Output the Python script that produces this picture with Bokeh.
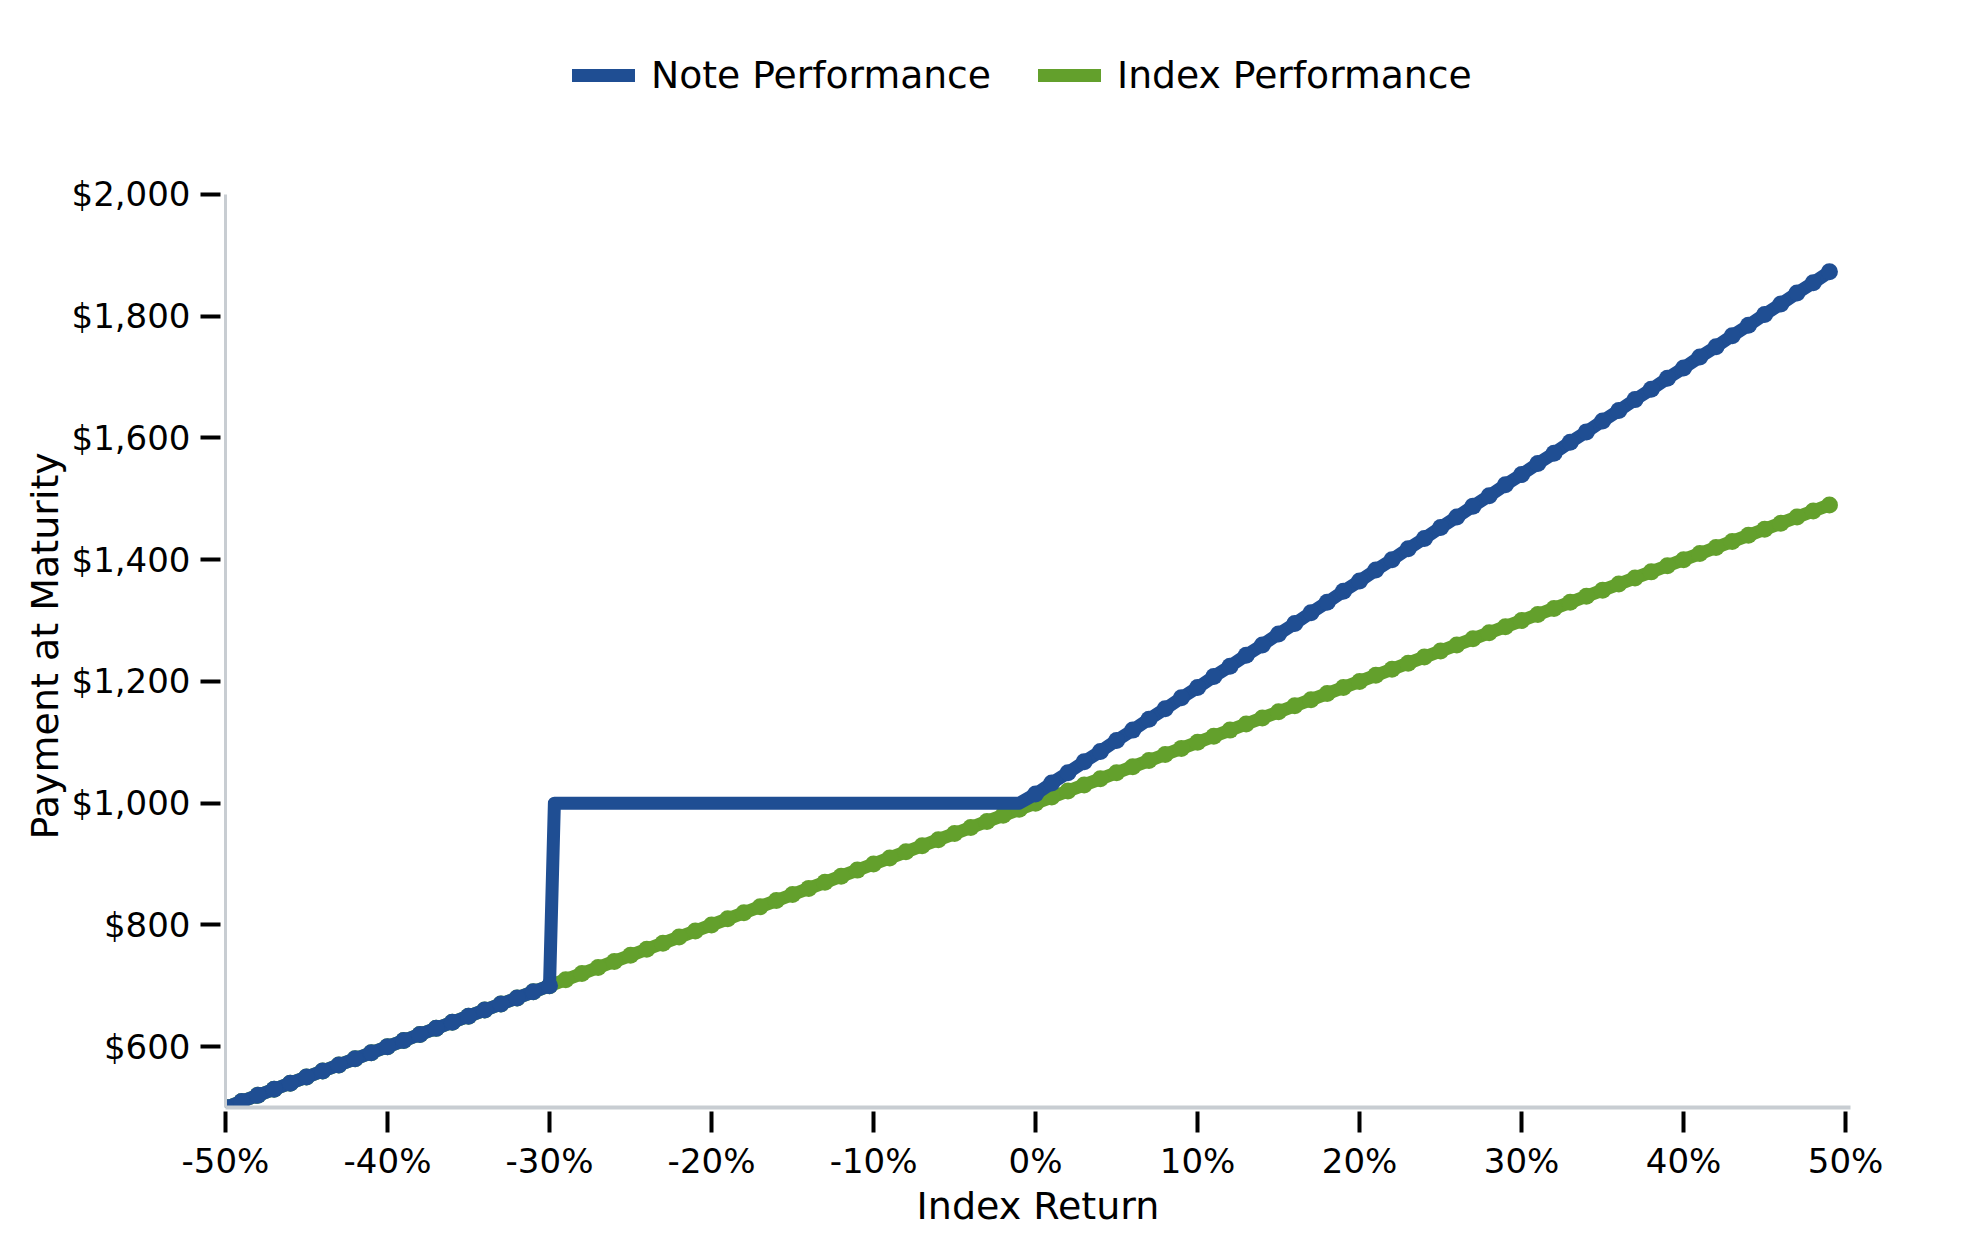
from bokeh.plotting import figure
from bokeh.models import (Legend, LegendItem, ColumnDataSource, FixedTicker,
                          Range1d, CDSView, IndexFilter, Title)
from bokeh.embed import file_html
from bokeh.resources import INLINE

# ---------------- data ----------------
index_return_pct = [-50, -49, -48, -47, -46, -45, -44, -43, -42, -41,
                    -40, -39, -38, -37, -36, -35, -34, -33, -32, -31,
                    -30, -29, -28, -27, -26, -25, -24, -23, -22, -21,
                    -20, -19, -18, -17, -16, -15, -14, -13, -12, -11,
                    -10, -9, -8, -7, -6, -5, -4, -3, -2, -1,
                    0, 1, 2, 3, 4, 5, 6, 7, 8, 9,
                    10, 11, 12, 13, 14, 15, 16, 17, 18, 19,
                    20, 21, 22, 23, 24, 25, 26, 27, 28, 29,
                    30, 31, 32, 33, 34, 35, 36, 37, 38, 39,
                    40, 41, 42, 43, 44, 45, 46, 47, 48, 49]
index_payment = [500, 510, 520, 530, 540, 550, 560, 570, 580, 590,
                 600, 610, 620, 630, 640, 650, 660, 670, 680, 690,
                 700, 710, 720, 730, 740, 750, 760, 770, 780, 790,
                 800, 810, 820, 830, 840, 850, 860, 870, 880, 890,
                 900, 910, 920, 930, 940, 950, 960, 970, 980, 990,
                 1000, 1010, 1020, 1030, 1040, 1050, 1060, 1070, 1080, 1090,
                 1100, 1110, 1120, 1130, 1140, 1150, 1160, 1170, 1180, 1190,
                 1200, 1210, 1220, 1230, 1240, 1250, 1260, 1270, 1280, 1290,
                 1300, 1310, 1320, 1330, 1340, 1350, 1360, 1370, 1380, 1390,
                 1400, 1410, 1420, 1430, 1440, 1450, 1460, 1470, 1480, 1490]

note_return_pct = [-50, -49, -48, -47, -46, -45, -44, -43, -42, -41,
                   -40, -39, -38, -37, -36, -35, -34, -33, -32, -31,
                   -30, -29.7, -1,
                   0, 1, 2, 3, 4, 5, 6, 7, 8, 9,
                   10, 11, 12, 13, 14, 15, 16, 17, 18, 19,
                   20, 21, 22, 23, 24, 25, 26, 27, 28, 29,
                   30, 31, 32, 33, 34, 35, 36, 37, 38, 39,
                   40, 41, 42, 43, 44, 45, 46, 47, 48, 49]
note_payment = [500, 510, 520, 530, 540, 550, 560, 570, 580, 590,
                600, 610, 620, 630, 640, 650, 660, 670, 680, 690,
                700, 1000, 1000,
                1015, 1033, 1050, 1068, 1085, 1103, 1120, 1138, 1155, 1173,
                1190, 1208, 1225, 1243, 1260, 1278, 1295, 1313, 1330, 1348,
                1365, 1383, 1400, 1418, 1435, 1453, 1470, 1488, 1505, 1523,
                1540, 1558, 1575, 1593, 1610, 1628, 1645, 1663, 1680, 1698,
                1715, 1733, 1750, 1768, 1785, 1803, 1820, 1838, 1855, 1873]

x_ticks = [-50, -40, -30, -20, -10, 0, 10, 20, 30, 40, 50]
x_tick_labels = ["-50%", "-40%", "-30%", "-20%", "-10%", "0%",
                 "10%", "20%", "30%", "40%", "50%"]
y_ticks = [600, 800, 1000, 1200, 1400, 1600, 1800, 2000]
y_tick_labels = ["$600", "$800", "$1,000", "$1,200", "$1,400",
                 "$1,600", "$1,800", "$2,000"]
y_axis_min = 500
y_axis_max = 2000

series_names = ["Note Performance", "Index Performance"]
x_title = "Index Return"
y_title = "Payment at Maturity"
BLUE = "#1f4e93"
GREEN = "#63a02c"
AXIS_GRAY = "#c8cdd2"
FONT = "DejaVu Sans"

# ---------------- figure ----------------
# frame extends above the $2,000 line so the legend can sit inside it;
# the y axis itself is bounded to 500..2000
p = figure(width=1960, height=1232,
           x_range=Range1d(-50, 50.3), y_range=Range1d(500, 2253),
           output_backend="svg", toolbar_location=None,
           min_border_left=225, min_border_right=110,
           min_border_top=40, min_border_bottom=125)
p.grid.visible = False
p.outline_line_color = None
p.background_fill_color = "white"
p.border_fill_color = "white"

idx_src = ColumnDataSource(dict(x=index_return_pct, y=index_payment))
note_src = ColumnDataSource(dict(x=note_return_pct, y=note_payment))

LW = 13
MS = 17

green_line = p.line("x", "y", source=idx_src, line_color=GREEN, line_width=LW,
                    line_join="round", line_cap="round")
p.scatter("x", "y", source=idx_src, marker="circle", size=MS,
          fill_color=GREEN, line_color=None)

blue_line = p.line("x", "y", source=note_src, line_color=BLUE, line_width=LW,
                   line_join="round", line_cap="round")
marker_idx = [i for i, v in enumerate(note_payment) if v != 1000]
p.scatter("x", "y", source=note_src, view=CDSView(filter=IndexFilter(marker_idx)),
          marker="circle", size=MS, fill_color=BLUE, line_color=None)

# ---------------- axes ----------------
xa = p.xaxis[0]
xa.ticker = FixedTicker(ticks=x_ticks)
xa.major_label_overrides = {t: l for t, l in zip(x_ticks, x_tick_labels)}
xa.axis_line_color = AXIS_GRAY
xa.axis_line_width = 4
xa.major_tick_line_color = "black"
xa.major_tick_line_width = 4
xa.major_tick_in = -4
xa.major_tick_out = 25
xa.minor_tick_in = 0
xa.minor_tick_out = 0
xa.major_label_text_font = FONT
xa.major_label_text_font_size = "34px"
xa.major_label_text_color = "black"
xa.major_label_standoff = 8
xa.axis_label = x_title
xa.axis_label_text_font = FONT
xa.axis_label_text_font_size = "38px"
xa.axis_label_text_font_style = "normal"
xa.axis_label_text_color = "black"
xa.axis_label_standoff = 0

ya = p.yaxis[0]
ya.bounds = (y_axis_min, y_axis_max)
ya.ticker = FixedTicker(ticks=y_ticks)
ya.major_label_overrides = {t: l for t, l in zip(y_ticks, y_tick_labels)}
ya.axis_line_color = AXIS_GRAY
ya.axis_line_width = 3
ya.major_tick_line_color = "black"
ya.major_tick_line_width = 4
ya.major_tick_in = -5
ya.major_tick_out = 25
ya.minor_tick_in = 0
ya.minor_tick_out = 0
ya.major_label_text_font = FONT
ya.major_label_text_font_size = "34px"
ya.major_label_text_color = "black"
ya.major_label_standoff = 10

# y-axis title as a left-side title, positioned along the bounded axis
ytitle = Title(text=y_title, align="left", offset=268, standoff=4,
               text_font=FONT, text_font_size="38px", text_font_style="normal",
               text_color="black")
p.add_layout(ytitle, "left")

# ---------------- legend ----------------
legend = Legend(items=[LegendItem(label=series_names[0], renderers=[blue_line]),
                       LegendItem(label=series_names[1], renderers=[green_line])],
                location=(347, 1010), orientation="horizontal",
                glyph_width=63, glyph_height=40, label_height=40,
                label_standoff=16, spacing=47, padding=0, margin=0,
                border_line_color=None, background_fill_alpha=0,
                label_text_font=FONT, label_text_font_size="37.7px",
                label_text_color="black")
p.add_layout(legend, "center")

open("out.html", "w").write(file_html(p, INLINE))
